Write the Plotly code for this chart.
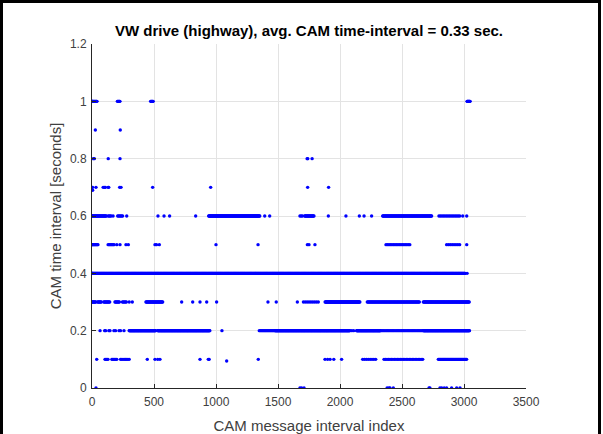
import plotly.graph_objects as go

# ---------------- data ----------------
# Each level: dense runs given as [first index, last index, spacing], plus isolated indices.
LEVELS = [0.0, 0.1, 0.2, 0.3, 0.4, 0.5, 0.6, 0.7, 0.8, 0.9, 1.0]

runs_00 = []
single_00 = [32, 1677, 1690, 1710, 2380, 2395, 2403, 2430, 2718, 2725, 2806, 2820, 2840, 2860, 2900, 2941, 2968]

runs_01 = [[105, 135, 8], [160, 200, 8], [230, 300, 10], [2183, 2296, 15], [2355, 2672, 12], [2793, 3022, 6]]
single_01 = [38, 446, 508, 530, 548, 871, 938, 945, 1341, 1879, 1900, 1920, 1950, 2013]

runs_02 = [[300, 515, 3], [530, 950, 3], [1349, 1475, 8], [1476, 2081, 3], [2134, 2323, 3],
           [2323, 2672, 10], [2672, 3045, 3]]
single_02 = [65, 102, 110, 136, 145, 177, 190, 218, 230, 258, 1048, 2095, 2110]

runs_03 = [[0, 30, 5], [45, 80, 6], [95, 145, 6], [185, 225, 6], [245, 280, 8], [435, 570, 5],
           [1705, 1830, 15], [1880, 2160, 4], [2220, 2645, 6], [2672, 3045, 5]]
single_03 = [300, 325, 723, 812, 871, 925, 1005, 1419, 1486, 1656]

runs_04 = [[0, 3010, 3]]
single_04 = [3025]

runs_05 = [[0, 50, 6], [130, 180, 8], [2371, 2565, 12], [2860, 2968, 15]]
single_05 = [200, 226, 274, 293, 508, 520, 543, 1000, 1339, 1737, 1750, 1798, 3022]

runs_06 = [[0, 118, 5], [130, 155, 8], [207, 250, 8], [941, 1355, 4], [1677, 1700, 10],
           [1715, 1790, 5], [2344, 2740, 5], [2798, 2968, 12]]
single_06 = [170, 280, 532, 581, 626, 836, 1393, 1433, 1906, 2048, 2156, 2194, 2255, 2990, 3022]

runs_07 = []
single_07 = [5, 32, 90, 100, 108, 130, 135, 223, 234, 489, 957, 1739, 1908]

runs_08 = []
single_08 = [11, 19, 131, 226, 1735, 1740, 1775]

runs_09 = []
single_09 = [27, 228]

runs_10 = [[0, 40, 4], [205, 225, 4], [473, 494, 4], [3025, 3050, 3]]
single_10 = []

# a few off-level points
odd_x = [5, 1086]
odd_y = [0.69, 0.094]

ALL_RUNS = [runs_00, runs_01, runs_02, runs_03, runs_04, runs_05, runs_06, runs_07, runs_08, runs_09, runs_10]
ALL_SINGLES = [single_00, single_01, single_02, single_03, single_04, single_05, single_06,
               single_07, single_08, single_09, single_10]

TITLE = "VW drive (highway), avg. CAM time-interval = 0.33 sec."
XLABEL = "CAM message interval index"
YLABEL = "CAM time interval [seconds]"
XTICKS = [0, 500, 1000, 1500, 2000, 2500, 3000, 3500]
YTICKS = [0, 0.2, 0.4, 0.6, 0.8, 1.0, 1.2]
YTICKTEXT = ["0", "0.2", "0.4", "0.6", "0.8", "1", "1.2"]

# ---------------- build points ----------------
xs, ys = [], []
for lvl, runs, singles in zip(LEVELS, ALL_RUNS, ALL_SINGLES):
    for a, b, s in runs:
        for i in range(a, b + 1, s):
            xs.append(i)
            ys.append(lvl)
    for i in singles:
        xs.append(i)
        ys.append(lvl)
xs += odd_x
ys += odd_y

W, H = 603, 434
L, R, T, B = 92, 526, 44, 388

fig = go.Figure()
fig.add_trace(go.Scatter(x=xs, y=ys, mode="markers",
                         marker=dict(color="#0000ff", size=3.4, line=dict(width=0)),
                         hoverinfo="skip", showlegend=False))

font_family = "Liberation Sans, Arial, Helvetica, sans-serif"
axis_common = dict(showgrid=True, gridcolor="#e3e3e3", gridwidth=1, zeroline=False,
                   showline=True, linecolor="#262626", linewidth=1, mirror=False,
                   ticks="inside", ticklen=4, tickcolor="#262626", automargin=False,
                   tickfont=dict(family=font_family, size=12, color="#404040"))

fig.update_layout(
    width=W, height=H,
    margin=dict(l=L, r=W - R, t=T, b=H - B, pad=0),
    paper_bgcolor="white", plot_bgcolor="white",
    font=dict(family=font_family, color="#262626"),
    title=dict(text="<b>" + TITLE + "</b>", x=0.5, xref="paper", y=1 - 31 / H, yref="container",
               xanchor="center", yanchor="middle",
               font=dict(family=font_family, size=15, color="#000000")),
    xaxis=dict(range=[0, 3500], tickvals=XTICKS, ticktext=[str(v) for v in XTICKS],
               ticklabelstandoff=3,
               title=dict(text=XLABEL, standoff=12, font=dict(family=font_family, size=15, color="#404040")),
               **axis_common),
    yaxis=dict(range=[0, 1.2], tickvals=YTICKS, ticktext=YTICKTEXT,
               ticklabelstandoff=2,
               title=dict(text=YLABEL, standoff=4, font=dict(family=font_family, size=15, color="#404040")),
               **axis_common),
)

# black frame of the original screenshot (left, top, right edges), drawn as page decoration
post = (
    "document.body.style.margin='0';"
    "document.body.style.overflow='hidden';"
    "var f=document.createElement('div');"
    "f.style.cssText='position:absolute;left:0;top:0;width:595px;height:434px;"
    "border-left:3px solid #000;border-top:3px solid #000;border-right:3px solid #000;"
    "pointer-events:none;z-index:1000;';"
    "document.body.appendChild(f);"
)

fig.write_html("out.html", post_script=post, config={"displayModeBar": False})
